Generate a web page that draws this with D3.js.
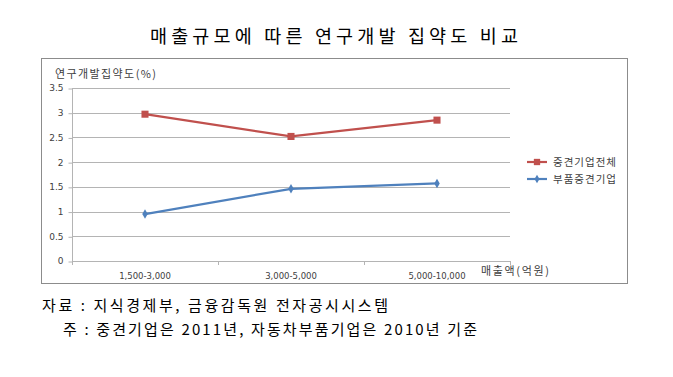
<!DOCTYPE html>
<html>
<head>
<meta charset="utf-8">
<script src="https://cdn.jsdelivr.net/npm/d3@7"></script>
<style>
  body { margin: 0; background: white; }
  text { font-family: "Noto Sans CJK KR", "Noto Sans", sans-serif; }
</style>
</head>
<body>
<div id="chart"></div>
<script>
var categories = ["1,500-3,000", "3,000-5,000", "5,000-10,000"];
var seriesNames = ["중견기업전체", "부품중견기업"];
var totalValues = [2.97, 2.52, 2.85];
var partsValues = [0.95, 1.46, 1.57];
var yTicks = [0, 0.5, 1, 1.5, 2, 2.5, 3, 3.5];
var titleText = "매출규모에 따른 연구개발 집약도 비교";
var yTitle = "연구개발집약도(%)";
var xTitle = "매출액(억원)";
var notes = ["자료 : 지식경제부, 금융감독원 전자공시시스템",
             "주 : 중견기업은 2011년, 자동차부품기업은 2010년 기준"];

var W = 673, H = 377;
var margin = {left: 72, top: 88};
var width = 438, height = 173;

var svg = d3.select("#chart").append("svg")
  .attr("width", W).attr("height", H);

svg.append("text")
  .attr("x", 150).attr("y", 43)
  .attr("textLength", 368).attr("lengthAdjust", "spacing")
  .style("font-size", "18.5px")
  .style("fill", "#000")
  .text(titleText);

// chart frame
svg.append("rect")
  .attr("x", 41.5).attr("y", 58.5)
  .attr("width", 586).attr("height", 225)
  .attr("fill", "white")
  .attr("stroke", "#8c8c8c");

var g = svg.append("g")
  .attr("transform", "translate(" + margin.left + "," + margin.top + ")");

var x = d3.scaleBand().domain(categories).range([0, width]);
var y = d3.scaleLinear().domain([0, 3.5]).range([height, 0]);

g.append("g").selectAll("line")
  .data(yTicks.filter(d => d > 0))
  .enter().append("line")
  .attr("x1", 0).attr("x2", width)
  .attr("y1", d => Math.round(y(d)) + 0.5).attr("y2", d => Math.round(y(d)) + 0.5)
  .attr("stroke", "#b4b4b4");

var yAxis = g.append("g")
  .attr("transform", "translate(0.5,0)")
  .call(d3.axisLeft(y).tickValues(yTicks).tickSize(4).tickFormat(d3.format("")));
yAxis.selectAll("line").attr("stroke", "#b4b4b4").attr("transform", "translate(0,0.5)");
yAxis.select(".domain").attr("stroke", "#b4b4b4").attr("d", "M0," + height + "V0");
yAxis.selectAll("text").attr("x", -9).style("font-size", "9px").style("fill", "#404040")
  .style("font-family", "'DejaVu Sans', sans-serif");

var xAxis = g.append("g")
  .attr("transform", "translate(0," + (Math.round(height) + 0.5) + ")")
  .call(d3.axisBottom(x).tickSize(0).tickPadding(11));
xAxis.select(".domain").attr("stroke", "#b4b4b4").attr("d", "M0,0H" + width);
xAxis.selectAll("text").style("font-size", "8.5px").style("fill", "#404040")
  .style("font-family", "'DejaVu Sans', sans-serif");
g.append("g").selectAll("line")
  .data([0, 1, 2, 3])
  .enter().append("line")
  .attr("x1", i => Math.round(i * x.step()) + 0.5).attr("x2", i => Math.round(i * x.step()) + 0.5)
  .attr("y1", height).attr("y2", height + 4)
  .attr("stroke", "#b4b4b4");

svg.append("text")
  .attr("x", 55).attr("y", 78)
  .attr("textLength", 101).attr("lengthAdjust", "spacing")
  .style("font-size", "11px").style("fill", "#404040")
  .text(yTitle);

svg.append("text")
  .attr("x", 481).attr("y", 275)
  .attr("textLength", 68).attr("lengthAdjust", "spacing")
  .style("font-size", "11px").style("fill", "#404040")
  .text(xTitle);

var colors = ["#c0504d", "#4f81bd"];
var line = d3.line()
  .x((d, i) => x(categories[i]) + x.bandwidth() / 2)
  .y(d => y(d));

var series = [totalValues, partsValues];
series.forEach(function (vals, si) {
  g.append("path")
    .datum(vals)
    .attr("d", line)
    .attr("fill", "none")
    .attr("stroke", colors[si])
    .attr("stroke-width", 2.2);
  var sym = si === 0 ? d3.symbolSquare : d3.symbolDiamond;
  var sz = si === 0 ? 50 : 26;
  g.selectAll(".m" + si)
    .data(vals)
    .enter().append("path")
    .attr("class", "m" + si)
    .attr("transform", (d, i) => "translate(" + (x(categories[i]) + x.bandwidth() / 2) + "," + y(d) + ")")
    .attr("d", d3.symbol().type(sym).size(sz))
    .attr("fill", colors[si]);
});

// legend
var legend = svg.append("g").attr("transform", "translate(527,162)");
seriesNames.forEach(function (name, i) {
  var row = legend.append("g").attr("transform", "translate(0," + (i * 17) + ")");
  row.append("line").attr("x1", 0).attr("x2", 20).attr("y1", 0).attr("y2", 0)
    .attr("stroke", colors[i]).attr("stroke-width", 2.2);
  row.append("path")
    .attr("transform", "translate(10,0)")
    .attr("d", d3.symbol().type(i === 0 ? d3.symbolSquare : d3.symbolDiamond).size(i === 0 ? 40 : 22))
    .attr("fill", colors[i]);
  row.append("text").attr("x", 26).attr("y", 4)
    .attr("textLength", 63).attr("lengthAdjust", "spacing")
    .style("font-size", "10.5px").style("fill", "#404040")
    .text(name);
});

svg.append("text")
  .attr("x", 42).attr("y", 311)
  .attr("textLength", 346).attr("lengthAdjust", "spacing")
  .style("font-size", "15px").style("fill", "#000")
  .text(notes[0]);
svg.append("text")
  .attr("x", 63).attr("y", 335)
  .attr("textLength", 414).attr("lengthAdjust", "spacing")
  .style("font-size", "15px").style("fill", "#000")
  .text(notes[1]);
</script>
</body>
</html>
